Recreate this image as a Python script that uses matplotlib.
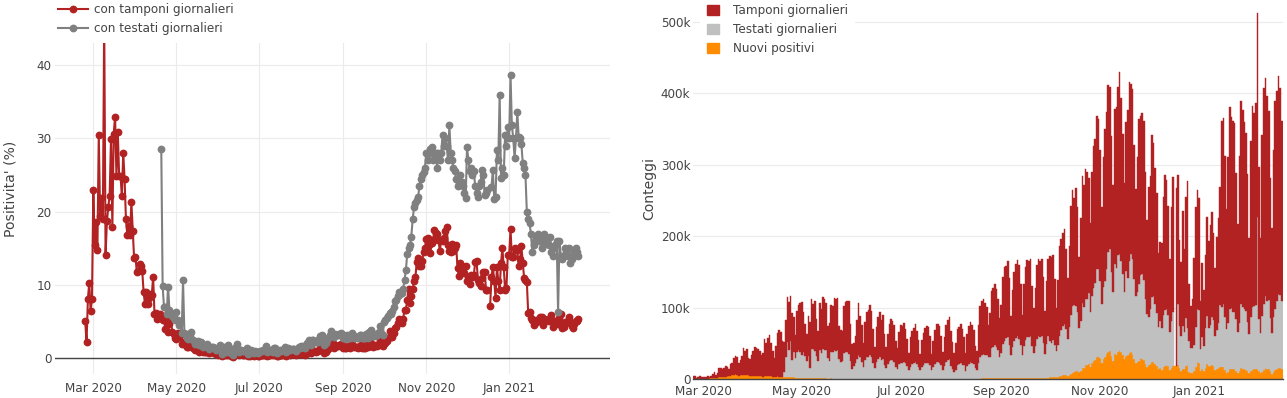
import numpy as np
import pandas as pd
import matplotlib
matplotlib.use("Agg")
import matplotlib.pyplot as plt
import matplotlib.dates as mdates
from matplotlib.patches import Patch
import datetime as dt

# ---------------- data (daily, 2020-02-24 .. 2021-02-21) ----------------
dates = pd.date_range("2020-02-24", "2021-02-21", freq="D")

nuovi_positivi = [
    # Feb 2020 (24-29)
    221, 93, 78, 250, 238, 240,
    # Mar
    566, 342, 466, 587, 769, 778, 1247, 1492, 1797, 977, 2313, 2651, 2547, 3497, 2823, 4000,
    3526, 4207, 5322, 5986, 6557, 5560, 4789, 5249, 5210, 6153, 5959, 5974, 5217, 4050, 4053,
    # Apr
    4782, 4668, 4585, 4805, 4316, 3599, 3039, 3836, 4204, 3951, 4694, 4092, 3153, 2972, 2667,
    3786, 3493, 3491, 3047, 2256, 2729, 3370, 2646, 3021, 2357, 2324, 1739, 2091, 2086, 1872,
    # May
    1965, 1900, 1389, 1221, 1075, 1444, 1401, 1327, 1083, 802, 744, 1402, 888, 992, 789, 875,
    675, 451, 813, 665, 642, 652, 669, 531, 300, 397, 584, 593, 516, 416, 355,
    # Jun
    178, 318, 321, 177, 518, 270, 197, 280, 283, 202, 379, 163, 346, 338, 301, 210, 329, 333,
    251, 262, 224, 218, 122, 190, 296, 259, 175, 174, 126, 142,
    # Jul
    187, 201, 223, 235, 192, 208, 138, 193, 229, 276, 188, 234, 169, 114, 162, 230, 233, 249,
    219, 190, 129, 282, 306, 252, 275, 255, 170, 181, 289, 386, 379,
    # Aug
    295, 239, 159, 190, 384, 402, 552, 347, 463, 259, 412, 481, 523, 574, 629, 479, 320, 403,
    642, 845, 947, 1071, 1210, 953, 878, 1367, 1411, 1462, 1444, 1365, 996,
    # Sep
    978, 1326, 1397, 1733, 1695, 1297, 1108, 1370, 1434, 1597, 1616, 1501, 1458, 1008, 1229,
    1452, 1585, 1907, 1638, 1587, 1350, 1392, 1640, 1786, 1912, 1869, 1766, 1494, 1648, 1851,
    # Oct
    2548, 2499, 2844, 2578, 2257, 2677, 3678, 4458, 5372, 5724, 5456, 4619, 5901, 7332, 8804,
    10010, 10925, 11705, 9338, 10874, 15199, 16079, 19143, 19644, 21273, 17012, 21994, 24991,
    26831, 31084, 31758,
    # Nov
    29907, 22253, 28244, 30550, 34505, 37809, 39811, 32616, 25271, 35098, 32961, 37978, 40902,
    37255, 33979, 27354, 32191, 34283, 36176, 37242, 34767, 28337, 22930, 23232, 25853, 29003,
    28352, 26323, 20648, 16377,
    # Dec
    19350, 20709, 23225, 24099, 21052, 18887, 13720, 14842, 12756, 16999, 18727, 19903, 17938,
    12030, 14844, 17572, 18236, 17992, 19974, 15104, 10872, 13318, 14522, 18040, 19037, 10407,
    8913, 8585, 11224, 16202, 23477,
    # Jan 2021
    22211, 11831, 14245, 10800, 15378, 20331, 18020, 17533, 19978, 18627, 12532, 14242, 15774,
    17246, 16146, 16310, 12545, 8824, 10497, 13571, 14078, 13633, 13331, 11629, 8562, 10593,
    15204, 14372, 13574, 12715, 11252,
    # Feb 2021 (1-21)
    7925, 10630, 13189, 13659, 14218, 13442, 11641, 7970, 10404, 12956, 15146, 13908, 13532,
    11068, 7351, 10386, 12074, 13762, 15479, 14931, 13452,
]

# daily swabs, thousands
tamponi_k = [
    # Feb 2020
    4.324, 4.299, 0.964, 2.427, 3.681, 2.966,
    # Mar
    2.466, 2.218, 2.511, 3.981, 2.525, 3.997, 5.703, 7.875, 3.889, 6.935, 12.393, 12.857,
    11.477, 11.682, 15.729, 13.063, 10.695, 16.884, 17.236, 24.109, 26.336, 25.180, 17.066,
    21.496, 27.481, 36.615, 33.019, 35.447, 24.504, 23.329, 29.609,
    # Apr
    34.455, 39.809, 38.617, 37.375, 34.237, 30.271, 33.713, 51.680, 46.244, 53.495, 56.609,
    46.720, 36.717, 26.779, 43.715, 60.999, 65.705, 61.725, 50.708, 41.483, 52.126, 63.101,
    66.658, 62.447, 65.387, 49.916, 32.003, 57.272, 63.827, 68.456,
    # May
    74.2, 55.4, 44.9, 37.6, 55.3, 64.3, 70.4, 63.8, 69.2, 51.7, 42.2, 65.6, 61.3, 72.6, 71.1,
    66.3, 44.0, 52.5, 66.3, 64.0, 72.7, 73.0, 73.8, 46.2, 44.8, 41.8, 65.3, 70.0, 72.0, 74.0, 51.0,
    # Jun
    35.0, 32.0, 38.0, 55.0, 72.5, 58.0, 51.0, 34.0, 53.0, 63.5, 65.0, 71.0, 65.0, 47.0, 30.0,
    48.0, 58.0, 63.0, 55.0, 61.0, 43.0, 30.0, 42.0, 52.0, 57.0, 55.0, 51.0, 36.0, 29.0, 44.0,
    # Jul
    53.0, 52.0, 54.0, 48.0, 38.0, 24.0, 41.0, 47.0, 49.5, 53.0, 46.0, 37.0, 23.0, 38.0, 45.0,
    49.0, 52.0, 50.0, 41.0, 23.0, 37.0, 47.5, 53.0, 53.0, 51.0, 40.0, 24.5, 40.0, 52.0, 56.0, 59.0,
    # Aug
    49.0, 37.0, 26.0, 37.0, 51.0, 52.5, 54.0, 50.0, 39.0, 26.0, 44.0, 53.0, 56.0, 53.0, 47.0,
    31.0, 27.0, 53.0, 71.0, 76.0, 77.0, 72.0, 67.0, 45.0, 61.0, 80.0, 82.0, 85.0, 80.0, 72.0, 54.0,
    # Sep
    67.0, 93.0, 103.0, 102.0, 107.0, 93.0, 55.0, 79.0, 96.0, 104.0, 107.0, 103.0, 86.0, 56.0,
    87.0, 103.0, 108.0, 106.0, 109.0, 84.0, 63.0, 81.0, 103.0, 108.0, 106.0, 108.0, 92.0, 60.0,
    88.0, 108.0,
    # Oct
    118.2, 120.3, 118.9, 92.7, 60.2, 91.5, 125.3, 128.1, 129.5, 133.1, 112.5, 85.4, 112.5,
    152.2, 162.9, 150.4, 165.8, 146.5, 98.9, 144.7, 177.7, 170.4, 182.0, 177.8, 161.9, 124.7,
    174.4, 199.0, 201.5, 215.1, 210.7,
    # Nov
    183.5, 135.7, 182.3, 211.8, 219.9, 234.2, 226.7, 191.1, 148.9, 217.8, 225.6, 234.7, 254.9,
    227.7, 195.3, 152.7, 208.5, 234.8, 250.2, 238.1, 237.2, 188.7, 148.9, 188.7, 230.0, 222.8,
    225.9, 222.8, 176.9, 130.5,
    # Dec
    182.5, 186.6, 227.7, 213.3, 189.7, 167.1, 103.9, 111.6, 119.2, 165.0, 189.2, 180.9, 152.0,
    102.0, 159.6, 189.0, None, 250.0, 179.9, 120.8, 103.0, 162.0, 116.2, 170.2, 204.7, 80.1,
    59.4, 68.7, 120.7, 168.8, 166.5,
    # Jan 2021
    157.5, 67.2, 102.9, 78.0, 102.0, 138.0, 121.6, 140.0, 147.7, 122.0, 96.0, 130.0, 147.0,
    165.0, 260.0, 261.0, 226.0, 168.0, 232.0, 282.0, 267.0, 268.0, 264.0, 204.0, 152.0, 234.0,
    284.0, 275.0, 261.0, 250.0, 207.0,
    # Feb 2021
    135.0, 247.0, 281.0, 270.0, 283.0, 286.0, 212.0, 132.0, 254.0, 302.0, 305.0, 287.0, 265.0,
    197.0, 147.0, 233.0, 291.0, 295.0, 305.0, 290.0, 251.0,
]

# daily tested people, thousands (series starts 2020-04-20)
testati_k = [None] * (6 + 31 + 19) + [
    # Apr 20-30
    7.9, 27.8, 48.0, 37.8, 50.3, 24.1, 35.2, 28.0, 36.1, 37.9, 36.0,
    # May
    31.2, 36.5, 30.9, 24.4, 31.6, 13.6, 40.0, 40.2, 38.7, 30.8, 24.8, 38.9, 35.5, 41.3, 39.5,
    39.8, 29.3, 25.1, 37.0, 36.9, 40.1, 38.4, 39.4, 27.9, 23.1, 24.8, 36.5, 37.1, 36.9, 34.7, 25.4,
    # Jun
    14.0, 18.0, 22.0, 28.0, 33.0, 30.0, 24.0, 16.0, 26.0, 30.0, 31.0, 33.0, 30.0, 22.0, 15.0,
    24.0, 28.0, 30.0, 27.0, 28.0, 20.0, 15.0, 21.0, 25.0, 27.0, 26.0, 24.0, 17.0, 14.0, 21.0,
    # Jul
    22.0, 21.5, 23.5, 21.5, 18.0, 12.5, 17.0, 20.5, 21.5, 23.5, 20.5, 17.0, 12.5, 16.0, 19.5,
    21.5, 22.5, 22.5, 19.5, 12.5, 16.0, 20.5, 23.5, 23.5, 22.5, 19.5, 13.0, 18.0, 23.5, 26.0, 27.0,
    # Aug
    18.0, 14.0, 10.0, 13.0, 19.0, 20.0, 22.0, 19.0, 19.0, 10.5, 18.0, 21.0, 23.0, 22.0, 21.0,
    15.0, 12.0, 22.0, 30.0, 33.0, 34.0, 33.0, 32.0, 30.0, 30.0, 42.0, 44.0, 46.0, 44.0, 39.0, 30.0,
    # Sep
    35.0, 48.0, 52.0, 55.0, 57.0, 47.0, 32.0, 44.0, 52.0, 56.0, 58.0, 55.0, 46.0, 32.0, 45.0,
    53.0, 57.0, 57.0, 58.0, 45.0, 35.0, 45.0, 55.0, 58.0, 57.0, 58.0, 49.0, 34.0, 48.0, 58.0,
    # Oct
    51.0, 48.0, 51.7, 44.4, 36.4, 44.6, 56.6, 63.7, 68.9, 71.6, 64.2, 51.3, 67.1, 82.4, 92.7,
    93.6, 91.0, 81.9, 62.3, 70.2, 91.6, 84.6, 92.9, 92.7, 98.5, 77.3, 93.6, 102.0, 107.3, 122.4,
    122.1,
    # Nov
    106.8, 82.4, 100.9, 107.2, 119.8, 140.0, 142.2, 116.5, 97.2, 125.4, 122.1, 135.6, 134.1,
    128.5, 113.3, 94.3, 119.2, 107.8, 129.2, 137.9, 133.7, 111.1, 93.6, 98.9, 107.7, 116.0,
    118.1, 112.0, 91.8, 75.1,
    # Dec
    67.2, 76.7, 91.1, 92.7, 84.2, 74.1, 58.4, 66.0, 58.0, 72.3, 78.0, 77.4, 71.8, 53.9, 66.0,
    76.4, None, None, 85.4, 58.8, 49.9, 60.5, 51.1, 66.8, 53.0, 42.3, 34.3, 34.3, 36.8, 55.9, 74.3,
    # Jan 2021
    74.0, 30.6, 44.8, 36.0, 56.3, 67.8, 53.6, 58.1, 66.6, 63.6, 47.1, 54.8, 63.1, 86.2, 85.0,
    88.6, 73.8, 60.9, 67.7, 84.8, 85.3, 80.2, 80.8, 72.7, 57.1, 68.3, 89.4, 87.1, 84.8, 82.0, 68.2,
    # Feb 2021
    54.7, 75.9, 87.9, 88.1, 88.9, 213.4, 72.8, 56.9, 77.1, 92.5, 101.0, 95.9, 96.7, 73.8, 56.5,
    76.9, 86.2, 94.9, 103.2, 103.0, 96.1,
]

assert len(nuovi_positivi) == len(dates), len(nuovi_positivi)
assert len(tamponi_k) == len(dates), len(tamponi_k)
assert len(testati_k) == len(dates), len(testati_k)

pos = np.array(nuovi_positivi, dtype=float)
tamp = np.array([np.nan if v is None else v for v in tamponi_k], dtype=float) * 1000
test = np.array([np.nan if v is None else v for v in testati_k], dtype=float) * 1000
with np.errstate(divide="ignore", invalid="ignore"):
    pos_tamponi = pos / tamp * 100
    pos_testati = pos / test * 100

# ---------------- styling ----------------
RED = "#b22222"
GREYLINE = "#808080"
SILVER = "#c0c0c0"
ORANGE = "#ff8c00"
TXT = "#444444"
GRID = "#ebebeb"
FS = 8.64      # 12 px
FS_T = 10.08   # 14 px
plt.rcParams["font.family"] = ["DejaVu Sans"]

W, H = 1287, 398
fig = plt.figure(figsize=(W / 100, H / 100), dpi=100)


def rect(l, t, r, b):
    return [l / W, 1 - b / H, (r - l) / W, (b - t) / H]


fmt = mdates.DateFormatter("%b %Y")
loc = mdates.MonthLocator(bymonth=[1, 3, 5, 7, 9, 11])

# ---------------- left: positivity ----------------
ax1 = fig.add_axes(rect(55, 42.7, 610, 374))
ax1.plot(dates, pos_tamponi, color=RED, lw=1.5, marker="o", ms=4.6,
         label="con tamponi giornalieri", zorder=3)
ax1.plot(dates, pos_testati, color=GREYLINE, lw=1.5, marker="o", ms=4.6,
         label="con testati giornalieri", zorder=4)
ax1.set_ylim(-2.14, 43.05)
ax1.set_xlim(dt.datetime(2020, 2, 1, 19), dt.datetime(2021, 3, 16, 5))
ax1.axhline(0, color=TXT, lw=1.0, zorder=2)
ax1.xaxis.set_major_locator(loc)
ax1.xaxis.set_major_formatter(fmt)
ax1.set_yticks([0, 10, 20, 30, 40])
ax1.grid(True, color=GRID, lw=0.8)
ax1.set_axisbelow(True)
for s in ax1.spines.values():
    s.set_visible(False)
ax1.tick_params(axis="both", length=0, labelsize=FS, colors=TXT)
ax1.tick_params(axis="x", pad=6.0)
ax1.tick_params(axis="y", pad=2.5)
leg1 = ax1.legend(loc="upper left", bbox_to_anchor=(56 / W, 1.0 - 1.0 / H),
                  bbox_transform=fig.transFigure,
                  frameon=True, fancybox=False, edgecolor="none", facecolor="white", framealpha=1,
                  fontsize=FS, handlelength=2.5, handletextpad=0.5, labelspacing=0.55,
                  borderpad=0.15, borderaxespad=0, numpoints=1)
for t in leg1.get_texts():
    t.set_color(TXT)
fig.text(11 / W, 1 - 189 / H, "Positivita' (%)", rotation=90, ha="center", va="center",
         fontsize=FS_T, color=TXT)

# ---------------- right: counts (stacked bars) ----------------
ax2 = fig.add_axes(rect(692.5, 2, 1282.5, 379))
test0 = np.nan_to_num(test)
ax2.bar(dates, pos, width=1.0, color=ORANGE, edgecolor=ORANGE, lw=0.3, zorder=2)
ax2.bar(dates, test, width=1.0, bottom=pos, color=SILVER, edgecolor=SILVER, lw=0.3, zorder=2)
ax2.bar(dates, tamp, width=1.0, bottom=pos + test0, color=RED, edgecolor=RED, lw=0.3, zorder=2)
ax2.set_xlim(dt.datetime(2020, 2, 23, 12), dt.datetime(2021, 2, 21, 12))
ax2.set_ylim(0, 527800)
ax2.set_yticks([0, 100000, 200000, 300000, 400000, 500000])
ax2.set_yticklabels(["0", "100k", "200k", "300k", "400k", "500k"])
ax2.xaxis.set_major_locator(loc)
ax2.xaxis.set_major_formatter(fmt)
ax2.yaxis.grid(True, color=GRID, lw=0.8)
ax2.xaxis.grid(False)
ax2.set_axisbelow(True)
ax2.axhline(0, color=TXT, lw=1.0, zorder=3, clip_on=False)
for s in ax2.spines.values():
    s.set_visible(False)
ax2.tick_params(axis="both", length=0, labelsize=FS, colors=TXT)
ax2.tick_params(axis="x", pad=4.0)
ax2.tick_params(axis="y", pad=1.5)
handles = [Patch(color=RED), Patch(color=SILVER), Patch(color=ORANGE)]
labels = ["Tamponi giornalieri", "Testati giornalieri", "Nuovi positivi"]
leg2 = ax2.legend(handles, labels, loc="upper left", bbox_to_anchor=(700 / W, 1.0 + 3.0 / H),
                  bbox_transform=fig.transFigure, frameon=True, fancybox=False, edgecolor="none",
                  facecolor="white", framealpha=1, fontsize=FS, handlelength=1.0, handleheight=1.0,
                  handletextpad=1.15, labelspacing=0.5, borderpad=0.6, borderaxespad=0)
for t in leg2.get_texts():
    t.set_color(TXT)
fig.text(649 / W, 1 - 188 / H, "Conteggi", rotation=90, ha="center", va="center",
         fontsize=FS_T, color=TXT)

fig.savefig("out.png", dpi=100)
